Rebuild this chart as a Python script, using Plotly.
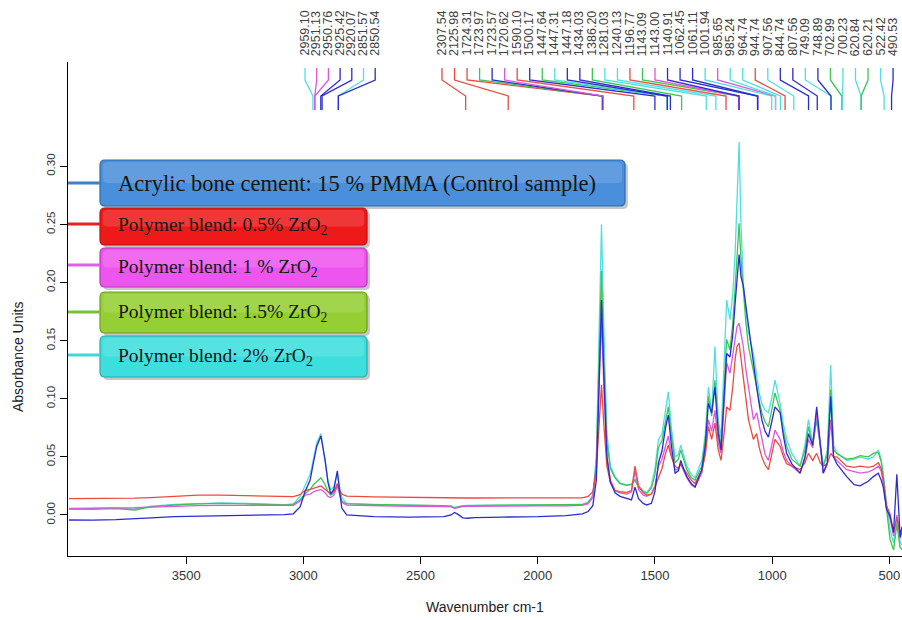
import plotly.graph_objects as go

# ---------------- data ----------------
wavenumber = [4000, 3900, 3800, 3720, 3650, 3550, 3450, 3350, 3250, 3150,
              3080, 3043, 3014, 2993, 2971, 2957, 2943, 2925, 2907, 2895,
              2883, 2870, 2855, 2845, 2836, 2815, 2700, 2550, 2400, 2370,
              2355, 2340, 2320, 2300, 2270, 2150, 2000, 1880, 1810, 1785,
              1765, 1750, 1740, 1728, 1718, 1705, 1690, 1670, 1649, 1620,
              1600, 1585, 1570, 1550, 1535, 1515, 1500, 1485, 1470, 1455,
              1443, 1430, 1414, 1400, 1390, 1378, 1364, 1345, 1329, 1300,
              1285, 1272, 1258, 1244, 1230, 1218, 1205, 1194, 1180, 1168,
              1158, 1150, 1141, 1133, 1123, 1112, 1101, 1080, 1066, 1055,
              1044, 1030, 1016, 1002, 988, 966, 952, 938, 916, 881,
              860, 845, 827, 810, 795, 782, 765, 750, 738, 724,
              682, 650, 625, 590, 568, 547, 535, 526, 512, 497,
              482, 468, 454, 446]

abs_control = [-0.0043, -0.0045, -0.0040, -0.0035, -0.0025, -0.0015, -0.0012, -0.0005, 0.0000, 0.0000,
               0.0003, 0.0010, 0.0070, 0.0200, 0.0300, 0.0450, 0.0590, 0.0680, 0.0470, 0.0280,
               0.0180, 0.0220, 0.0380, 0.0200, 0.0060, 0.0000, -0.0015, -0.0018, -0.0015, 0.0000,
               0.0022, 0.0005, -0.0025, -0.0028, -0.0022, -0.0018, -0.0015, -0.0005, 0.0010, 0.0030,
               0.0080, 0.0300, 0.1000, 0.1850, 0.1200, 0.0500, 0.0280, 0.0190, 0.0160, 0.0140,
               0.0130, 0.0240, 0.0140, 0.0100, 0.0086, 0.0100, 0.0200, 0.0450, 0.0550, 0.0750,
               0.0860, 0.0600, 0.0360, 0.0380, 0.0470, 0.0400, 0.0330, 0.0270, 0.0240, 0.0390,
               0.0600, 0.0960, 0.0880, 0.1100, 0.0700, 0.0560, 0.1050, 0.1390, 0.1360, 0.1550,
               0.1820, 0.2050, 0.2240, 0.2050, 0.1970, 0.1800, 0.1620, 0.1280, 0.1100, 0.0950,
               0.0820, 0.0720, 0.0670, 0.0800, 0.0930, 0.0880, 0.0680, 0.0530, 0.0440, 0.0360,
               0.0500, 0.0700, 0.0600, 0.0930, 0.0600, 0.0360, 0.0450, 0.1020, 0.0500, 0.0440,
               0.0330, 0.0260, 0.0250, 0.0290, 0.0330, 0.0360, 0.0300, 0.0240, 0.0050, -0.0010,
               -0.0150, 0.0350, -0.0190, -0.0100]

abs_zr05 = [0.0140, 0.0140, 0.0142, 0.0145, 0.0150, 0.0160, 0.0170, 0.0170, 0.0165, 0.0158,
            0.0155, 0.0158, 0.0175, 0.0210, 0.0220, 0.0230, 0.0240, 0.0250, 0.0220, 0.0200,
            0.0190, 0.0200, 0.0270, 0.0210, 0.0180, 0.0162, 0.0155, 0.0150, 0.0147, 0.0146,
            0.0142, 0.0145, 0.0146, 0.0146, 0.0146, 0.0145, 0.0145, 0.0145, 0.0148, 0.0160,
            0.0200, 0.0380, 0.0750, 0.1120, 0.0780, 0.0420, 0.0280, 0.0210, 0.0200, 0.0195,
            0.0210, 0.0420, 0.0250, 0.0190, 0.0170, 0.0180, 0.0240, 0.0330, 0.0400, 0.0530,
            0.0600, 0.0500, 0.0420, 0.0400, 0.0440, 0.0400, 0.0360, 0.0300, 0.0270, 0.0390,
            0.0520, 0.0760, 0.0650, 0.0790, 0.0560, 0.0470, 0.0700, 0.0930, 0.0900, 0.1100,
            0.1340, 0.1450, 0.1480, 0.1350, 0.1160, 0.0980, 0.0820, 0.0650, 0.0700, 0.0580,
            0.0500, 0.0430, 0.0390, 0.0520, 0.0650, 0.0590, 0.0500, 0.0440, 0.0420, 0.0390,
            0.0450, 0.0530, 0.0470, 0.0530, 0.0450, 0.0420, 0.0440, 0.0530, 0.0500, 0.0500,
            0.0420, 0.0410, 0.0420, 0.0410, 0.0420, 0.0450, 0.0400, 0.0300, 0.0080, 0.0010,
            -0.0150, -0.0020, -0.0160, -0.0120]

abs_zr1 = [0.0057, 0.0058, 0.0060, 0.0062, 0.0068, 0.0077, 0.0080, 0.0082, 0.0080, 0.0078,
           0.0078, 0.0082, 0.0120, 0.0170, 0.0180, 0.0200, 0.0210, 0.0220, 0.0190, 0.0160,
           0.0150, 0.0170, 0.0250, 0.0170, 0.0110, 0.0085, 0.0078, 0.0075, 0.0073, 0.0070,
           0.0058, 0.0065, 0.0072, 0.0074, 0.0075, 0.0077, 0.0078, 0.0079, 0.0083, 0.0098,
           0.0150, 0.0420, 0.1000, 0.1700, 0.1100, 0.0500, 0.0300, 0.0210, 0.0190, 0.0180,
           0.0200, 0.0380, 0.0220, 0.0170, 0.0160, 0.0180, 0.0250, 0.0420, 0.0480, 0.0600,
           0.0680, 0.0520, 0.0390, 0.0390, 0.0440, 0.0380, 0.0320, 0.0260, 0.0240, 0.0360,
           0.0550, 0.0820, 0.0720, 0.0900, 0.0620, 0.0530, 0.0930, 0.1310, 0.1220, 0.1380,
           0.1540, 0.1620, 0.1650, 0.1550, 0.1450, 0.1250, 0.1100, 0.0820, 0.0880, 0.0760,
           0.0650, 0.0520, 0.0470, 0.0600, 0.0730, 0.0650, 0.0540, 0.0470, 0.0420, 0.0360,
           0.0480, 0.0650, 0.0580, 0.0880, 0.0580, 0.0360, 0.0430, 0.0820, 0.0500, 0.0470,
           0.0390, 0.0370, 0.0360, 0.0370, 0.0390, 0.0420, 0.0380, 0.0280, 0.0060, -0.0030,
           -0.0180, 0.0000, -0.0200, -0.0150]

abs_zr15 = [0.0050, 0.0048, 0.0055, 0.0043, 0.0070, 0.0086, 0.0095, 0.0100, 0.0095, 0.0088,
            0.0086, 0.0090, 0.0130, 0.0180, 0.0220, 0.0260, 0.0290, 0.0320, 0.0260, 0.0200,
            0.0170, 0.0190, 0.0260, 0.0180, 0.0120, 0.0095, 0.0088, 0.0085, 0.0080, 0.0075,
            0.0062, 0.0070, 0.0078, 0.0080, 0.0082, 0.0085, 0.0086, 0.0087, 0.0090, 0.0105,
            0.0160, 0.0450, 0.1200, 0.2100, 0.1350, 0.0620, 0.0400, 0.0320, 0.0270, 0.0255,
            0.0260, 0.0300, 0.0240, 0.0200, 0.0185, 0.0230, 0.0350, 0.0580, 0.0640, 0.0820,
            0.0930, 0.0680, 0.0450, 0.0480, 0.0560, 0.0480, 0.0390, 0.0320, 0.0300, 0.0420,
            0.0650, 0.1020, 0.0850, 0.1160, 0.0750, 0.0590, 0.1100, 0.1510, 0.1420, 0.1650,
            0.1950, 0.2250, 0.2510, 0.2200, 0.1900, 0.1650, 0.1450, 0.1250, 0.1100, 0.0980,
            0.0880, 0.0800, 0.0760, 0.0900, 0.1050, 0.0900, 0.0720, 0.0590, 0.0480, 0.0420,
            0.0560, 0.0760, 0.0600, 0.0820, 0.0580, 0.0420, 0.0520, 0.1080, 0.0560, 0.0530,
            0.0480, 0.0490, 0.0510, 0.0500, 0.0530, 0.0540, 0.0460, 0.0330, 0.0050, -0.0210,
            -0.0300, -0.0080, -0.0280, -0.0300]

abs_zr2 = [0.0050, 0.0055, 0.0060, 0.0050, 0.0075, 0.0090, 0.0100, 0.0105, 0.0100, 0.0090,
           0.0088, 0.0095, 0.0160, 0.0250, 0.0350, 0.0480, 0.0620, 0.0700, 0.0480, 0.0300,
           0.0220, 0.0240, 0.0350, 0.0230, 0.0150, 0.0100, 0.0088, 0.0085, 0.0082, 0.0078,
           0.0065, 0.0072, 0.0080, 0.0082, 0.0083, 0.0085, 0.0086, 0.0087, 0.0092, 0.0110,
           0.0170, 0.0500, 0.1400, 0.2500, 0.1600, 0.0700, 0.0420, 0.0330, 0.0275, 0.0260,
           0.0265, 0.0310, 0.0250, 0.0210, 0.0190, 0.0250, 0.0400, 0.0650, 0.0700, 0.0900,
           0.1060, 0.0750, 0.0500, 0.0520, 0.0600, 0.0520, 0.0420, 0.0350, 0.0320, 0.0470,
           0.0700, 0.1100, 0.0880, 0.1450, 0.0820, 0.0670, 0.1390, 0.1850, 0.1680, 0.1900,
           0.2250, 0.2700, 0.3210, 0.2500, 0.2000, 0.1750, 0.1570, 0.1390, 0.1220, 0.1050,
           0.0960, 0.0900, 0.0880, 0.1000, 0.1160, 0.0960, 0.0780, 0.0650, 0.0530, 0.0420,
           0.0600, 0.0820, 0.0620, 0.0820, 0.0600, 0.0420, 0.0550, 0.1290, 0.0600, 0.0530,
           0.0470, 0.0480, 0.0500, 0.0480, 0.0500, 0.0560, 0.0480, 0.0360, 0.0100, -0.0130,
           -0.0240, -0.0040, -0.0230, -0.0260]

series_names = ["Acrylic bone cement: 15 % PMMA (Control sample)",
                "Polymer blend: 0.5% ZrO<sub>2</sub>",
                "Polymer blend: 1 % ZrO<sub>2</sub>",
                "Polymer blend: 1.5% ZrO<sub>2</sub>",
                "Polymer blend: 2% ZrO<sub>2</sub>"]

peak_labels_left = ["2959.10", "2951.13", "2950.76", "2925.42", "2920.07", "2851.57", "2850.54"]
peak_series_left = [4, 2, 2, 0, 0, 4, 0]

peak_labels_right = ["2307.54", "2125.98", "1724.31", "1723.97", "1723.57", "1720.62", "1590.10",
                     "1500.17", "1447.64", "1447.31", "1447.18", "1434.03", "1386.20", "1281.03",
                     "1240.13", "1196.77", "1143.09", "1143.00", "1140.91", "1062.45", "1061.11",
                     "1001.94", "985.65", "985.24", "964.74", "944.74", "907.56", "844.74",
                     "807.56", "749.09", "748.89", "702.99", "700.23", "620.84", "620.21",
                     "522.42", "490.53"]
peak_series_right = [1, 1, 1, 3, 0, 2, 1, 0, 3, 4, 0, 0, 3, 4, 4, 1, 3, 2, 0, 0, 0,
                     4, 2, 4, 4, 1, 4, 0, 0, 4, 0, 3, 4, 4, 3, 4, 0]

x_ticks = [3500, 3000, 2500, 2000, 1500, 1000, 500]
y_ticks = [0.00, 0.05, 0.10, 0.15, 0.20, 0.25, 0.30]

# ---------------- styles / layout ----------------
line_colors = ["#2b2bd2", "#ea4b3f", "#df55df", "#3ec455", "#4ee0e0"]
box_fill = ["#4a8fdb", "#ee1a1a", "#ee55ee", "#95cf33", "#3fdede"]
box_edge = ["#2e6aa8", "#b81010", "#b03cb0", "#6c9e20", "#28aaaa"]
stub_colors = ["#3f7fc4", "#e32222", "#e25ee2", "#78c23a", "#3fd6d6"]

W, H = 902, 620
ML, MR, MT, MB = 68, 0, 62, 64
X_RANGE = [4004, 446]
Y_RANGE = [-0.0353, 0.3898]
PW, PH = W - ML - MR, H - MT - MB


def px_to_wn(px):
    return X_RANGE[0] + (px - ML) / PW * (X_RANGE[1] - X_RANGE[0])


def py_to_val(py):
    return Y_RANGE[1] - (py - MT) / PH * (Y_RANGE[1] - Y_RANGE[0])


def paper(px, py):
    return (px - ML) / PW, (H - MB - py) / PH


def rrect_path(x0, y0, x1, y1, r):
    pts = [("M", [(x0 + r, y0)]), ("L", [(x1 - r, y0)]), ("Q", [(x1, y0), (x1, y0 + r)]),
           ("L", [(x1, y1 - r)]), ("Q", [(x1, y1), (x1 - r, y1)]), ("L", [(x0 + r, y1)]),
           ("Q", [(x0, y1), (x0, y1 - r)]), ("L", [(x0, y0 + r)]), ("Q", [(x0, y0), (x0 + r, y0)])]
    s = ""
    for cmd, ps in pts:
        s += cmd + " " + " ".join("%.5f,%.5f" % paper(px, py) for px, py in ps) + " "
    return s + "Z"


series_values = [abs_control, abs_zr05, abs_zr1, abs_zr15, abs_zr2]

fig = go.Figure()
for idx in [4, 3, 2, 1, 0]:
    fig.add_trace(go.Scatter(x=wavenumber, y=series_values[idx], mode="lines",
                             line=dict(color=line_colors[idx], width=1.3),
                             name=series_names[idx], showlegend=False, hoverinfo="skip"))

shapes = []
annotations = []

# peak label connectors and texts
label_groups = [
    (peak_labels_left, peak_series_left, 305.0, 11.7),
    (peak_labels_right, peak_series_right, 442.0, 12.53),
]
v_top, v_knee1, v_knee2, v_bot = py_to_val(68), py_to_val(80), py_to_val(96), py_to_val(110)
for labels, sers, start_px, step in label_groups:
    for i, (lab, s) in enumerate(zip(labels, sers)):
        lx = px_to_wn(start_px + i * step)
        tx = float(lab)
        shapes.append(dict(type="path", xref="x", yref="y",
                           path="M %.3f,%.5f L %.3f,%.5f L %.3f,%.5f L %.3f,%.5f" % (
                               lx, v_top, lx, v_knee1, tx, v_knee2, tx, v_bot),
                           line=dict(color=line_colors[s], width=1.3), layer="above"))
        annotations.append(dict(x=lx, xref="x", y=paper(0, 58)[1], yref="paper",
                                text=lab, textangle=-90, showarrow=False,
                                xanchor="center", yanchor="bottom",
                                font=dict(family="Liberation Sans, Arial", size=12.5, color="#404040")))

# legend boxes
boxes = [(100, 160, 625, 206), (100, 208, 367, 245), (100, 248, 367, 287),
         (100, 292, 367, 333), (100, 336, 367, 377)]
stub_y = [183, 224, 265, 312, 355]
for i, (x0, y0, x1, y1) in enumerate(boxes):
    shapes.append(dict(type="path", xref="paper", yref="paper",
                       path=rrect_path(x0 + 3, y0 + 3, x1 + 3, y1 + 3, 5),
                       fillcolor="rgba(0,0,0,0.22)", line=dict(width=0), layer="above"))
    shapes.append(dict(type="path", xref="paper", yref="paper",
                       path=rrect_path(x0, y0, x1, y1, 5),
                       fillcolor=box_fill[i], line=dict(color=box_edge[i], width=1.2), layer="above"))
    shapes.append(dict(type="path", xref="paper", yref="paper",
                       path=rrect_path(x0 + 3, y0 + 2, x1 - 3, (y0 + y1) / 2, 4),
                       fillcolor="rgba(255,255,255,0.13)", line=dict(width=0), layer="above"))
    sx0, sy = paper(ML, stub_y[i])
    sx1, _ = paper(x0, stub_y[i])
    shapes.append(dict(type="line", xref="paper", yref="paper", x0=sx0, x1=sx1, y0=sy, y1=sy,
                       line=dict(color=stub_colors[i], width=3), layer="above"))
    tx, ty = paper(x0 + 16, (y0 + y1) / 2)
    annotations.append(dict(x=tx, y=ty, xref="paper", yref="paper", text=series_names[i],
                            showarrow=False, xanchor="left", yanchor="middle",
                            font=dict(family="Liberation Serif, Times New Roman, serif",
                                      size=22.5 if i == 0 else 19.5, color="#151515")))

# axis titles
ax, ay = paper(485, 607)
annotations.append(dict(x=ax, y=ay, xref="paper", yref="paper", text="Wavenumber cm-1",
                        showarrow=False, xanchor="center", yanchor="middle",
                        font=dict(family="Liberation Sans, Arial", size=14, color="#222222")))
ax, ay = paper(18, 357)
annotations.append(dict(x=ax, y=ay, xref="paper", yref="paper", text="Absorbance Units",
                        textangle=-90, showarrow=False, xanchor="center", yanchor="middle",
                        font=dict(family="Liberation Sans, Arial", size=14, color="#222222")))

fig.update_layout(
    width=W, height=H,
    margin=dict(l=ML, r=MR, t=MT, b=MB, pad=0),
    paper_bgcolor="white", plot_bgcolor="white",
    showlegend=False,
    shapes=shapes, annotations=annotations,
    xaxis=dict(range=X_RANGE, tickvals=x_ticks, ticks="outside", ticklen=7, tickwidth=1,
               tickcolor="black", showline=True, linecolor="black", linewidth=1,
               showgrid=False, zeroline=False,
               tickfont=dict(family="Liberation Sans, Arial", size=13, color="#333333")),
    yaxis=dict(range=Y_RANGE, tickvals=y_ticks, tickformat=".2f", ticks="outside", ticklen=7,
               tickwidth=1, tickcolor="black", showline=True, linecolor="black", linewidth=1,
               showgrid=False, zeroline=False, tickangle=-90,
               tickfont=dict(family="Liberation Sans, Arial", size=11.5, color="#333333")),
)

fig.write_html("out.html")
